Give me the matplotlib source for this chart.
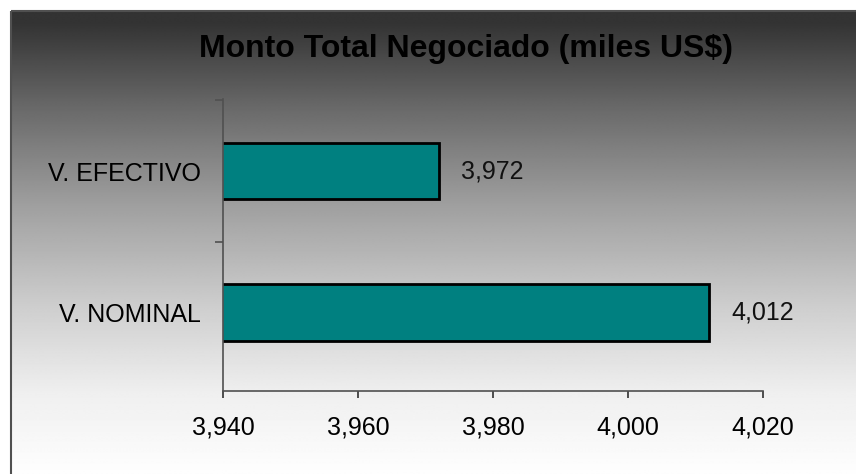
import numpy as np
import matplotlib
matplotlib.use('Agg')
import matplotlib.pyplot as plt
from matplotlib.patches import Rectangle

plt.rcParams['font.family'] = ['Liberation Sans', 'DejaVu Sans']

categories = ['V. NOMINAL', 'V. EFECTIVO']
values = [4012, 3972]
xticks = [3940, 3960, 3980, 4000, 4020]
title = 'Monto Total Negociado (miles US$)'

W, H = 856, 474
fig = plt.figure(figsize=(W / 100, H / 100), dpi=100)
fig.patch.set_facecolor('white')

# gradient background of the chart area (dark top -> white bottom)
bg = fig.add_axes([0, 0, 1, 1], zorder=0)
bg.axis('off')
rows = np.arange(H)
shade = np.interp(rows, [11, 100, 200, 300, 390, 474], [51, 106, 160, 205, 239, 254]) / 255.0
grad = np.repeat(shade[:, None], 2, axis=1)
bg.imshow(grad, cmap='gray', vmin=0, vmax=1, aspect='auto',
          extent=[11, W, H, 11], interpolation='bilinear')
bg.add_patch(Rectangle((11, 11), W + 5, H + 5, fill=False, edgecolor='#505050', lw=1.5))
bg.set_xlim(0, W)
bg.set_ylim(H, 0)

ax = fig.add_axes([223 / W, 1 - 391 / H, (763 - 223) / W, (391 - 99) / H], zorder=1)
ax.patch.set_alpha(0)

ypos = np.arange(len(categories))
ax.barh(ypos, values, height=0.4, color='#008080', edgecolor='black', linewidth=2)

ax.set_xlim(xticks[0], xticks[-1])
ax.set_ylim(-0.555, 1.509)
ax.set_xticks(xticks)
ax.set_xticklabels(['{:,}'.format(v) for v in xticks])
ax.set_yticks(ypos)
ax.set_yticklabels(categories)
ax.set_yticks([0.5, 1.5], minor=True)

for s in ['top', 'right']:
    ax.spines[s].set_visible(False)
for s in ['left', 'bottom']:
    ax.spines[s].set_color('#505050')
    ax.spines[s].set_linewidth(1.2)

ax.tick_params(axis='x', direction='out', length=5, width=1.2, color='#303030',
               labelsize=18, pad=13)
ax.tick_params(axis='y', which='major', length=0, labelsize=18, pad=16)
ax.tick_params(axis='y', which='minor', direction='out', length=6, width=1.2, color='#505050')

for y, v in zip(ypos, values):
    ax.annotate('{:,}'.format(v), xy=(v, y), xytext=(16, 0), textcoords='offset points',
                ha='left', va='center', fontsize=18, color='#111111')

fig.text(466 / W, 1 - 57 / H, title, ha='center', va='baseline',
         fontsize=23, fontweight='bold', color='black')

fig.savefig('out.png', dpi=100)
